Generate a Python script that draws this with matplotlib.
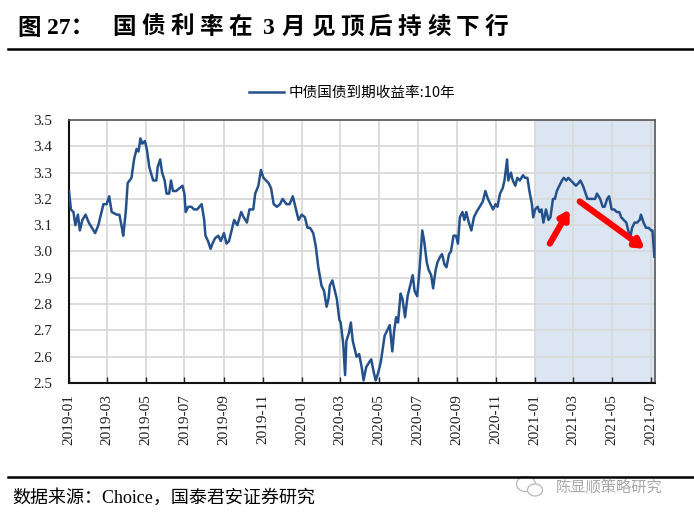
import numpy as np
import pandas as pd
import matplotlib
matplotlib.use('Agg')
import matplotlib.pyplot as plt
import matplotlib.dates as mdates
from matplotlib.patches import Ellipse

CJK = 'Noto Sans CJK SC'
SERIF = 'Liberation Serif'
plt.rcParams['font.family'] = [SERIF, CJK]

# values: days since 2019-01-01 and yield (%)
days_since_2019 = [
    0, 3, 7, 10, 14, 17, 21, 26, 31, 41, 46, 54, 59, 63, 67, 75, 79, 83, 85, 89,
    92, 95, 98, 102, 106, 109, 112, 115, 119, 122, 126, 132, 137, 139, 143, 146,
    150, 153, 157, 160, 163, 168, 173, 178, 181, 183, 187, 192, 196, 201, 208,
    212, 214, 218, 222, 225, 229, 234,
    238, 243, 247, 251, 256, 259, 264, 270, 274, 279, 283, 289, 292, 297, 301,
    305, 309, 313, 317, 321, 326, 331, 335, 341, 346, 351, 355, 360, 365, 370,
    374, 378, 383, 387, 391, 396, 400, 404, 407, 409, 413, 417, 420, 424, 426,
    430, 433, 435, 439, 442, 445, 448, 451, 455, 459, 462, 466, 471,
    474, 478, 481, 485, 489, 492, 495, 499, 503, 507, 510, 513, 516, 520, 523,
    527, 531, 535, 539, 542, 546, 550, 554, 557, 561, 564, 568, 571, 575, 578,
    582, 585, 589, 592, 596, 599, 603, 607, 610, 613, 617, 620, 623, 627, 631,
    635, 639, 644, 649, 653, 657, 661, 665, 669, 672, 676, 680, 683, 687, 689,
    693, 696, 700, 703, 707,
    712, 715, 719, 722, 726, 728, 731, 735, 738, 741, 744, 748, 752, 755, 759,
    762, 765, 769, 773, 776, 780, 783, 787, 791, 795, 799, 802, 806, 809, 813,
    817, 821, 825, 828, 833, 837, 840, 844, 847, 851, 855, 859, 863, 866, 870,
    874, 877, 880, 883, 887, 891, 895, 897, 901, 905, 909, 913, 915, 918,
]
yield_10y = [
    3.23, 3.16, 3.15, 3.10, 3.14, 3.08, 3.12, 3.14, 3.11, 3.07, 3.10, 3.18, 3.18,
    3.21, 3.15, 3.14, 3.14, 3.09, 3.06, 3.15, 3.26, 3.27, 3.28, 3.35, 3.39, 3.38,
    3.43, 3.41, 3.42, 3.39, 3.32, 3.27, 3.27, 3.32, 3.35, 3.30, 3.27, 3.22, 3.22,
    3.27, 3.23, 3.23, 3.24, 3.25, 3.22, 3.15, 3.17, 3.17, 3.16, 3.16, 3.18, 3.12,
    3.06, 3.04, 3.01, 3.03, 3.05, 3.06,
    3.04, 3.07, 3.03, 3.04, 3.09, 3.12, 3.10, 3.15, 3.13, 3.11, 3.16, 3.16, 3.22,
    3.25, 3.31, 3.28, 3.27, 3.26, 3.24, 3.18, 3.17, 3.18, 3.20, 3.18, 3.18, 3.21,
    3.17, 3.12, 3.14, 3.13, 3.09, 3.09, 3.07, 3.02, 2.94, 2.87, 2.85, 2.79, 2.82,
    2.87, 2.89, 2.85, 2.82, 2.74, 2.73, 2.65, 2.53, 2.66, 2.69, 2.73, 2.66, 2.63,
    2.60, 2.61, 2.56, 2.51, 2.56, 2.58,
    2.59, 2.54, 2.51, 2.54, 2.58, 2.63, 2.68, 2.70, 2.72, 2.62, 2.70, 2.75, 2.73,
    2.84, 2.82, 2.75, 2.83, 2.87, 2.91, 2.85, 2.83, 2.94, 3.08, 3.04, 2.96, 2.93,
    2.91, 2.86, 2.93, 2.96, 2.98, 2.99, 2.95, 2.94, 2.99, 3.00, 3.06, 3.06, 3.03,
    3.13, 3.15, 3.12, 3.15, 3.11, 3.08, 3.13, 3.15, 3.17, 3.19, 3.23, 3.20, 3.18,
    3.16, 3.18, 3.17, 3.22, 3.24, 3.27, 3.35, 3.27, 3.30, 3.27, 3.25, 3.28, 3.27,
    3.29, 3.28, 3.28, 3.23, 3.18, 3.13, 3.16, 3.17, 3.15, 3.16, 3.11, 3.16, 3.12,
    3.13, 3.20, 3.20, 3.23, 3.25, 3.27, 3.28, 3.27, 3.28, 3.27, 3.26, 3.25, 3.26,
    3.27, 3.25, 3.23, 3.20, 3.20, 3.20, 3.20, 3.22, 3.20, 3.17, 3.17, 3.20, 3.21,
    3.16, 3.16, 3.15, 3.15, 3.13, 3.12, 3.11, 3.08, 3.05, 3.09, 3.11, 3.11, 3.12,
    3.14, 3.11, 3.09, 3.09, 3.08, 3.08, 2.98,
]
series_name = '中债国债到期收益率:10年'
shade_start = '2021-01-01'
x_start, x_end = '2019-01-01', '2021-07-08'
y_ticks = [2.5, 2.6, 2.7, 2.8, 2.9, 3.0, 3.1, 3.2, 3.3, 3.4, 3.5]

# red arrows (date, value): tail -> head
arrow_up = (('2021-01-24', 3.03), ('2021-02-24', 3.16))
arrow_down = (('2021-03-12', 3.19), ('2021-06-22', 3.01))

dates = pd.Timestamp('2019-01-01') + pd.to_timedelta(days_since_2019, unit='D')

W, H = 694, 522
fig = plt.figure(figsize=(W / 100, H / 100), dpi=100)
ax = fig.add_axes([69 / W, 139 / H, 586 / W, 263 / H])

ax.axvspan(pd.Timestamp(shade_start), pd.Timestamp(x_end), color='#dce6f2', zorder=0.2, lw=0)
line, = ax.plot(dates, yield_10y, color='#24508c', lw=1.8, zorder=3, label=series_name)

for tail, head in (arrow_up, arrow_down):
    ax.annotate('', xy=(pd.Timestamp(head[0]), head[1]),
                xytext=(pd.Timestamp(tail[0]), tail[1]),
                arrowprops=dict(arrowstyle='-|>,head_length=0.5,head_width=0.3',
                                color='#ff0000', lw=4.5, shrinkA=0, shrinkB=0),
                zorder=4)

ax.set_xlim(pd.Timestamp(x_start), pd.Timestamp(x_end))
ax.set_ylim(2.5, 3.5)
ax.set_yticks(y_ticks)
ax.set_yticklabels([f'{v:.1f}' for v in y_ticks])
ax.xaxis.set_major_locator(mdates.MonthLocator(bymonth=[1, 3, 5, 7, 9, 11]))
ax.xaxis.set_major_formatter(mdates.DateFormatter('%Y-%m'))
ax.tick_params(axis='x', direction='in', length=4, width=1, pad=8, colors='#222222',
               labelrotation=90, labelsize=11)
ax.tick_params(axis='y', length=0, pad=12, labelsize=11, labelcolor='#222222')

ax.set_axisbelow(True)
ax.grid(True, color='#d9d9d9', lw=1.3)
for side in ['left', 'bottom']:
    ax.spines[side].set_color('#111111')
    ax.spines[side].set_linewidth(1.5)
for side in ['top', 'right']:
    ax.spines[side].set_color('#555555')
    ax.spines[side].set_linewidth(1.2)

fig.legend(handles=[line], loc='center', bbox_to_anchor=(352 / W, 1 - 93 / H),
           frameon=False, prop={'family': CJK, 'size': 10.5}, handlelength=2.4,
           handletextpad=0.3)

# header: title with wide letter spacing
fig.text(17 / W, 1 - 28 / H, '图', family=CJK, fontsize=17, fontweight='bold',
         va='center', ha='left')
fig.text(47 / W, 1 - 28 / H, '27：', family=[SERIF, CJK], fontsize=17, fontweight='bold',
         va='center', ha='left')
title_rest = ['国', '债', '利', '率', '在', '3', '月', '见', '顶', '后', '持', '续', '下', '行']
tx = 112
for ch in title_rest:
    fig.text(tx / W, 1 - 28 / H, ch, family=[SERIF, CJK], fontsize=17, fontweight='bold',
             va='center', ha='left')
    tx += 20 if ch == '3' else (34 if ch == '在' else 29)
fig.add_artist(plt.Line2D([8 / W, 1], [1 - 49 / H] * 2, color='black', lw=1.8))

# footer
fig.add_artist(plt.Line2D([8 / W, 1], [1 - 477 / H] * 2, color='black', lw=1.8))
fig.text(12 / W, 1 - 498 / H, '数据来源：Choice，国泰君安证券研究',
         family=[SERIF, CJK], fontsize=13, va='center', ha='left')
fig.text(663 / W, 1 - 487 / H, '陈显顺策略研究', family=CJK, fontsize=11,
         color='#a8a8a8', va='center', ha='right')
fig.add_artist(Ellipse((526 / W, 1 - 484 / H), 19 / W, 15 / H, fill=False,
                       ec='#b8b8b8', lw=0.9))
fig.add_artist(Ellipse((535 / W, 1 - 490 / H), 15 / W, 12 / H, fc='white',
                       ec='#b8b8b8', lw=0.9))

fig.savefig('out.png', dpi=100)
